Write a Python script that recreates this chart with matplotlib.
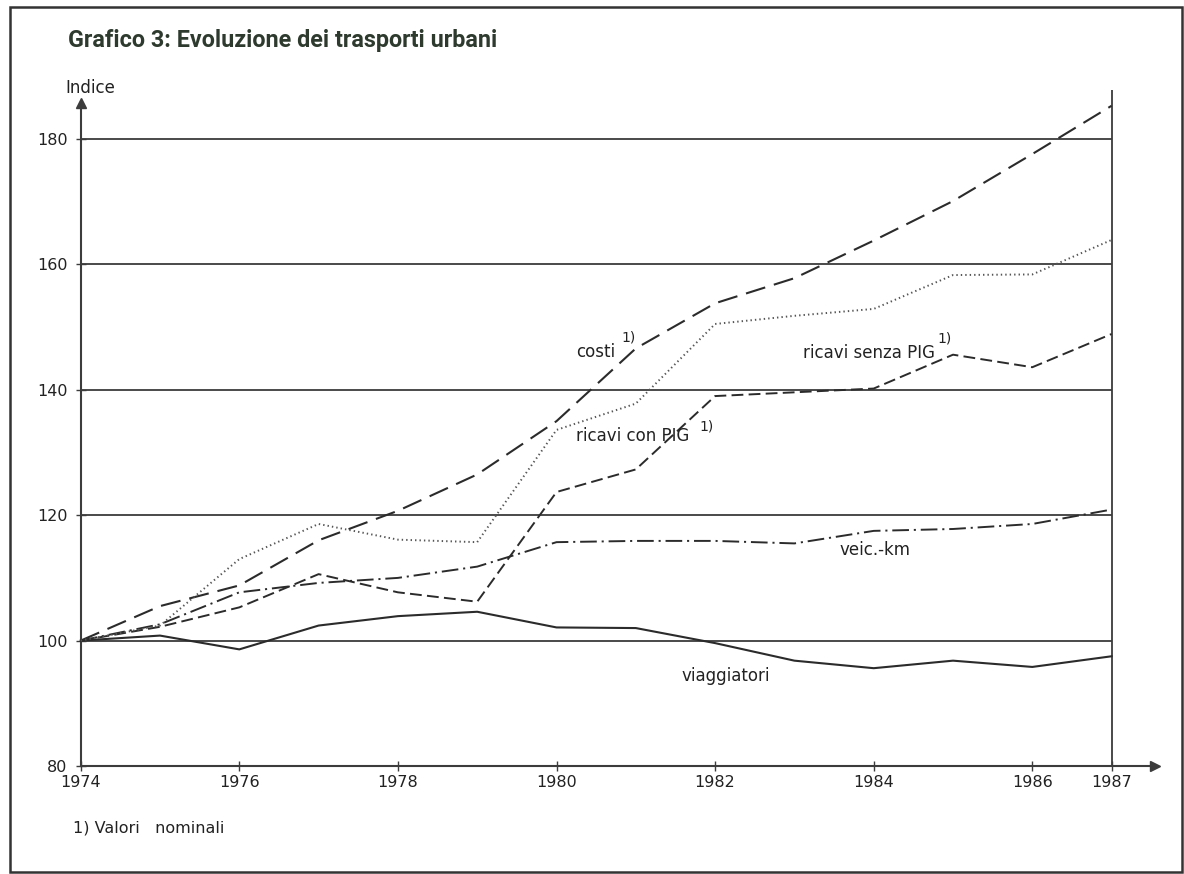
import matplotlib
matplotlib.use("Agg")
import matplotlib.pyplot as plt
from matplotlib.patches import Rectangle

# ---- data ----
years = [1974, 1975, 1976, 1977, 1978, 1979, 1980, 1981, 1982, 1983, 1984, 1985, 1986, 1987]
viaggiatori = [100, 100.8, 98.6, 102.4, 103.9, 104.6, 102.1, 102.0, 99.6, 96.8, 95.6, 96.8, 95.8, 97.5]
veic_km = [100, 102.6, 107.7, 109.2, 110.0, 111.8, 115.7, 115.9, 115.9, 115.5, 117.5, 117.8, 118.6, 120.9]
costi = [100, 105.5, 108.8, 116.0, 120.7, 126.5, 135.0, 146.6, 153.8, 157.8, 163.8, 170.1, 177.6, 185.3]
ricavi_con = [100, 102.4, 113.0, 118.6, 116.1, 115.7, 133.6, 137.8, 150.5, 151.8, 152.9, 158.3, 158.4, 163.9]
ricavi_senza = [100, 102.2, 105.3, 110.6, 107.7, 106.2, 123.7, 127.3, 139.0, 139.6, 140.2, 145.6, 143.6, 148.9]

xtick_years = [1974, 1976, 1978, 1980, 1982, 1984, 1986, 1987]
ytick_vals = [80, 100, 120, 140, 160, 180]
grid_vals = [100, 120, 140, 160, 180]

title = "Grafico 3: Evoluzione dei trasporti urbani"
footnote = "1) Valori   nominali"

plt.rcParams['lines.scale_dashes'] = False
plt.rcParams['font.family'] = ['DejaVu Sans']

W, H = 1184, 874
fig = plt.figure(figsize=(W / 100, H / 100), dpi=100)

# axes placement in pixels
x0_px, x1_px = 80.7, 1155.0
y0_px, y1_px = 766.0, 103.0
px_per_year = 79.3
px_per_unit = 6.27
ax = fig.add_axes([x0_px / W, (H - y0_px) / H, (x1_px - x0_px) / W, (y0_px - y1_px) / H])
ax.set_xlim(1974, 1974 + (x1_px - x0_px) / px_per_year)
ax.set_ylim(80, 80 + (y0_px - y1_px) / px_per_unit)


def dx(px):
    return 1974 + (px - x0_px) / px_per_year


def dy(py):
    return 80 + (y0_px - py) / px_per_unit


line_col = '#2b2b2b'
grid_col = '#3c3c3c'
text_col = '#222222'

# gridlines and right frame at 1987
ax.hlines(grid_vals, 1974, 1987, colors=grid_col, lw=1.3, zorder=1)
ax.vlines(1987, 80, dy(90), colors=grid_col, lw=1.3, zorder=1, clip_on=False)

# series
ax.plot(years, viaggiatori, color=line_col, lw=1.5, zorder=3, clip_on=False)
ax.plot(years, veic_km, color=line_col, lw=1.4, dashes=(12, 3.5, 1.5, 3.5), zorder=3, clip_on=False)
ax.plot(years, costi, color=line_col, lw=1.5, dashes=(14.5, 6.5), zorder=3, clip_on=False)
ax.plot(years, ricavi_senza, color=line_col, lw=1.4, dashes=(8.5, 3.8), zorder=3, clip_on=False)
ax.plot(years, ricavi_con, color='#555555', lw=1.4, dashes=(1.0, 2.2), zorder=3, clip_on=False)

# spines / axes arrows
for s in ['top', 'right']:
    ax.spines[s].set_visible(False)
for s in ['left', 'bottom']:
    ax.spines[s].set_color(grid_col)
    ax.spines[s].set_linewidth(1.5)
ax.plot(1, 0, marker='>', color=grid_col, ms=7, transform=ax.transAxes, clip_on=False)
ax.plot(0, 1, marker='^', color=grid_col, ms=7, transform=ax.transAxes, clip_on=False)

ax.set_xticks(xtick_years)
ax.set_xticklabels([str(y) for y in xtick_years])
ax.set_yticks(ytick_vals)
ax.set_yticklabels([str(v) for v in ytick_vals])
ax.tick_params(axis='both', direction='inout', length=7, width=1.0, color=grid_col,
               labelsize=11.5, labelcolor=text_col)
ax.tick_params(axis='x', pad=3)
ax.tick_params(axis='y', pad=6)

# series labels
lab_kw = dict(fontsize=12, color=text_col, va='center', ha='left')
sup_kw = dict(fontsize=10, color=text_col, va='center', ha='left')
ax.text(dx(576), dy(352), 'costi', **lab_kw)
ax.text(dx(621), dy(338), '1)', **sup_kw)
ax.text(dx(576), dy(436), 'ricavi con PIG', **lab_kw)
ax.text(dx(699), dy(427), '1)', **sup_kw)
ax.text(dx(803), dy(353), 'ricavi senza PIG', **lab_kw)
ax.text(dx(937), dy(339), '1)', **sup_kw)
ax.text(dx(839), dy(550), 'veic.-km', **lab_kw)
ax.text(dx(682), dy(676), 'viaggiatori', **lab_kw)

# y-axis title
fig.text(65 / W, (H - 88) / H, 'Indice', fontsize=12, color=text_col, ha='left', va='center')

# chart title
fig.text(68 / W, (H - 40) / H, title, fontsize=16.8, fontweight='bold', color='#2e3a2e',
         ha='left', va='center', family=['Roboto', 'DejaVu Sans'])

# footnote
fig.text(73 / W, (H - 828) / H, footnote, fontsize=11.5, color=text_col, ha='left', va='center')

# outer frame
fig.patches.append(Rectangle((10 / W, 2 / H), 1172 / W, 865 / H, transform=fig.transFigure,
                             fill=False, edgecolor='#333333', lw=1.8))

fig.savefig('out.png', dpi=100, facecolor='white')
